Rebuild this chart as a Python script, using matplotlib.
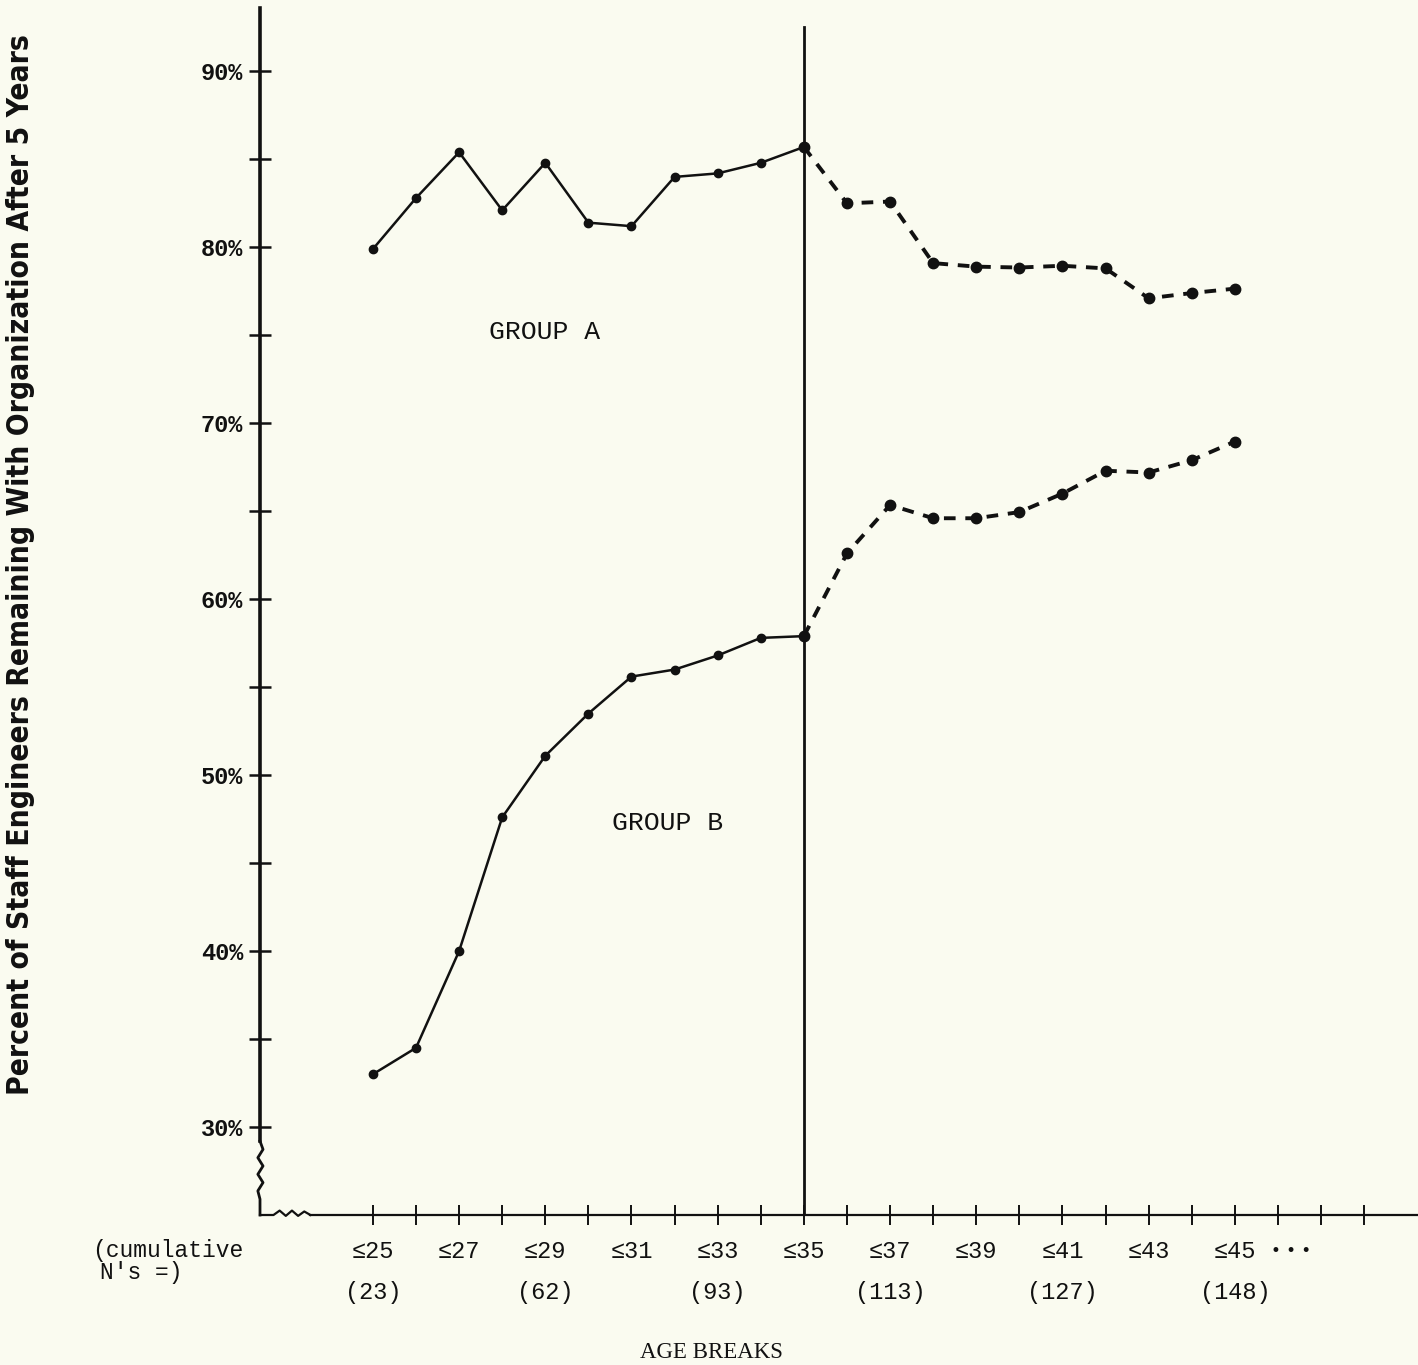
import numpy as np
import matplotlib
matplotlib.use('Agg')
import matplotlib.pyplot as plt

#================================================================
# data
ages = [25, 26, 27, 28, 29, 30, 31, 32, 33, 34, 35,
        36, 37, 38, 39, 40, 41, 42, 43, 44, 45]

group_a = [79.9, 82.8, 85.4, 82.1, 84.8, 81.4, 81.2, 84.0, 84.2, 84.8, 85.7,
           82.5, 82.6, 79.1, 78.9, 78.85, 78.95, 78.8, 77.1, 77.4, 77.65]

group_b = [33.0, 34.5, 40.0, 47.6, 51.1, 53.5, 55.6, 56.0, 56.8, 57.8, 57.9,
           62.6, 65.35, 64.6, 64.6, 64.95, 66.0, 67.3, 67.2, 67.9, 68.96]

split_age = 35

xtick_pos = list(range(25, 49))
xlabel_ages = [25, 27, 29, 31, 33, 35, 37, 39, 41, 43, 45]
n_ages = [25, 29, 33, 37, 41, 45]
n_labels = ['(23)', '(62)', '(93)', '(113)', '(127)', '(148)']

ytick_pos = list(range(30, 95, 5))
ylabel_vals = [30, 40, 50, 60, 70, 80, 90]

#================================================================
bg = '#fafbf0'
ink = '#111111'
mono = ['Liberation Mono', 'DejaVu Sans Mono']

fig = plt.figure(figsize=(14.18, 13.65), dpi=100, facecolor=bg)
ax = fig.add_axes([260/1418, 1 - 1215/1365, 1 - 260/1418, (1215 - 8)/1365])
ax.set_facecolor(bg)

xmin, xmax = 22.38, 49.25
ymin, ymax = 25.0, 93.6
ax.set_xlim(xmin, xmax)
ax.set_ylim(ymin, ymax)

x = np.array(ages)
a = np.array(group_a)
b = np.array(group_b)
solid = x <= split_age
dashed = x >= split_age

for y in (a, b):
    ax.plot(x[solid], y[solid], color=ink, lw=1.8, marker='o', ms=6, zorder=3)
    ax.plot(x[dashed], y[dashed], color=ink, lw=2.8, ls=(0, (3, 2.5)),
            marker='o', ms=7.5, zorder=3)

# vertical divider
ax.plot([split_age, split_age], [ymin, 92.5], color=ink, lw=2.0, zorder=2)

# spines
for s in ('top', 'right'):
    ax.spines[s].set_visible(False)
ax.spines['left'].set_linewidth(2.6)
ax.spines['bottom'].set_linewidth(1.6)
ax.spines['left'].set_color(ink)
ax.spines['bottom'].set_color(ink)
ax.spines['left'].set_bounds(29.2, ymax)
ax.spines['bottom'].set_bounds(23.55, xmax)

# axis break marks
zy = np.linspace(29.2, 25.9, 8)
zx = xmin + np.array([0, 0.07, -0.05, 0.07, -0.05, 0.07, -0.05, 0])
ax.plot(np.r_[zx, xmin, xmin], np.r_[zy, 25.6, ymin], color=ink, lw=2.0,
        clip_on=False, zorder=4)
bx = np.linspace(22.55, 23.55, 8)
by = ymin + np.array([0, 0, 0.25, -0.05, 0.25, -0.05, 0.2, 0])
ax.plot(np.r_[xmin, bx], np.r_[ymin, by], color=ink, lw=1.6, clip_on=False, zorder=4)

# ticks
ax.set_yticks(ytick_pos)
ax.set_yticklabels(['%d%%' % v if v in ylabel_vals else '' for v in ytick_pos],
                   family=mono, fontweight='bold', fontsize=17)
ax.tick_params(axis='y', direction='inout', length=16, width=1.8, color=ink,
               pad=4, labelcolor=ink)

ax.set_xticks(xtick_pos)
ax.set_xticklabels(['\u2264%d' % v if v in xlabel_ages else '' for v in xtick_pos],
                   family=mono, fontsize=17)
ax.tick_params(axis='x', direction='inout', length=14, width=1.4, color=ink,
               pad=11, labelcolor=ink)

for xa, lab in zip(n_ages, n_labels):
    ax.text(xa, -0.064, lab, transform=ax.get_xaxis_transform(), ha='center',
            va='center', family=mono, fontsize=17, color=ink)
ax.text(45.85, -0.0295, '\u2022 \u2022 \u2022', transform=ax.get_xaxis_transform(),
        ha='left', va='center', fontsize=12, color=ink)

# group labels
ax.text(27.7, 75.2, 'GROUP A', family=mono, fontsize=19, color=ink, va='center')
ax.text(30.55, 47.3, 'GROUP B', family=mono, fontsize=19, color=ink, va='center')

# outer text
fig.text(92/1418, 1 - 1250/1365, '(cumulative', family=mono, fontsize=16.5,
         color=ink, ha='left', va='center')
fig.text(100/1418, 1 - 1272/1365, "N's =)", family=mono, fontsize=16.5,
         color=ink, ha='left', va='center')
fig.text(711/1418, 1 - 1352/1365, 'AGE BREAKS',
         family=['Liberation Serif', 'DejaVu Serif'], fontsize=16.5, color=ink,
         ha='center', va='center')
fig.text(21/1418, 1 - 565/1365,
         'Percent of Staff Engineers Remaining With Organization After 5 Years',
         family='DejaVu Sans', fontstretch='condensed', fontweight='bold',
         fontsize=21.5, color=ink, rotation=90, ha='center', va='center')

fig.savefig('out.png', dpi=100, facecolor=bg)
